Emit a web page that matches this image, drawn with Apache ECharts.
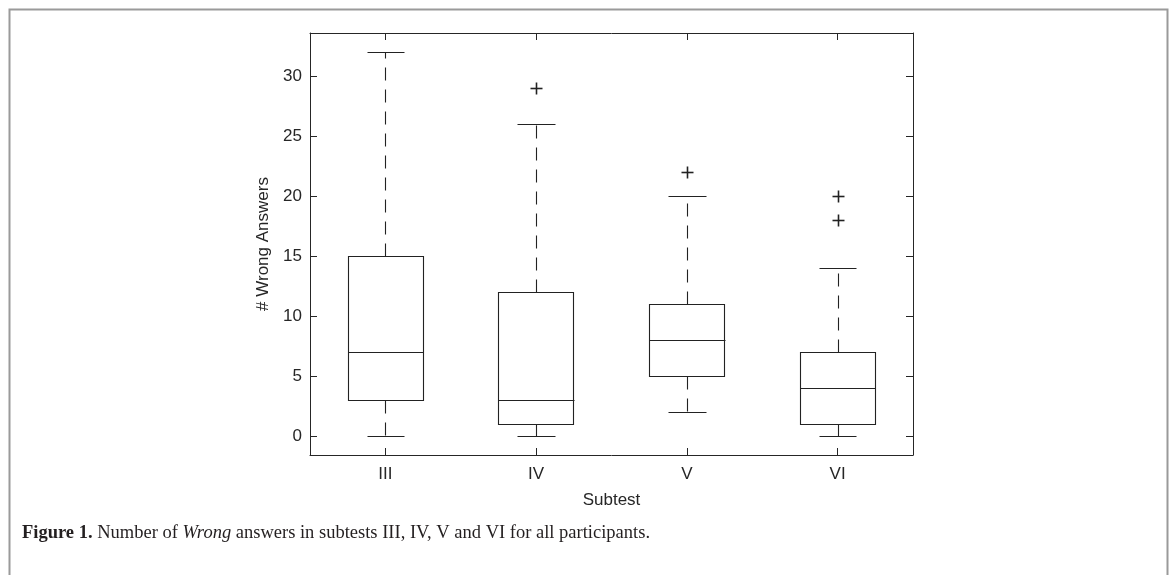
<!DOCTYPE html>
<html><head><meta charset="utf-8">
<script src="https://cdn.jsdelivr.net/npm/echarts@6/dist/echarts.min.js"></script>
<style>html,body{margin:0;padding:0;background:#fff}#c{width:1171px;height:575px}</style>
</head><body><div id="c"></div>
<script>
const categories = ['III', 'IV', 'V', 'VI'];
const whiskerLow = [0, 0, 2, 0];
const q1 = [3, 1, 5, 1];
const median = [7, 3, 8, 4];
const q3 = [15, 12, 11, 7];
const whiskerHigh = [32, 26, 20, 14];
const outlierCat = [1, 2, 3, 3];
const outlierVal = [29, 22, 18, 20];
const yTicks = [0, 5, 10, 15, 20, 25, 30];

const boxData = categories.map((c, i) => [i, whiskerLow[i], q1[i], median[i], q3[i], whiskerHigh[i]]);
const outData = outlierCat.map((c, i) => [c, outlierVal[i]]);
const INK = '#262626';
const snap = v => Math.round(v) + 0.5;

const chart = echarts.init(document.getElementById('c'), null, {renderer: 'canvas'});
const axisCommonY = {
  type: 'value', min: -1.6, max: 33.6,
  axisLine: {show: true, onZero: false, lineStyle: {color: INK, width: 1}},
  axisTick: {show: true, inside: true, length: 7, customValues: yTicks, lineStyle: {color: INK}},
  splitLine: {show: false}
};
const axisCommonX = {
  type: 'category', data: categories, boundaryGap: true,
  axisLine: {show: true, onZero: false, lineStyle: {color: INK, width: 1}},
  axisTick: {show: true, inside: true, alignWithLabel: true, length: 7, lineStyle: {color: INK}},
  splitLine: {show: false}
};
chart.setOption({
  animation: false,
  backgroundColor: '#fff',
  grid: {left: 310, top: 33, right: 258, bottom: 120, containLabel: false},
  xAxis: [
    Object.assign({}, axisCommonX, {position: 'bottom',
      axisLabel: {fontSize: 17, color: INK, margin: 11, fontFamily: 'Liberation Sans'},
      name: 'Subtest', nameLocation: 'middle', nameGap: 37,
      nameTextStyle: {fontSize: 17, color: INK, fontFamily: 'Liberation Sans'}}),
    Object.assign({}, axisCommonX, {position: 'top', axisLabel: {show: false}})
  ],
  yAxis: [
    Object.assign({}, axisCommonY, {position: 'left',
      axisLabel: {fontSize: 17, color: INK, margin: 8, customValues: yTicks, fontFamily: 'Liberation Sans'},
      name: '# Wrong Answers', nameLocation: 'middle', nameGap: 33,
      nameTextStyle: {fontSize: 17, color: INK, fontFamily: 'Liberation Sans'}}),
    Object.assign({}, axisCommonY, {position: 'right', axisLabel: {show: false}})
  ],
  series: [
    {
      type: 'custom', xAxisIndex: 0, yAxisIndex: 0,
      data: boxData,
      encode: {x: 0, y: [1, 2, 3, 4, 5]},
      renderItem: function (params, api) {
        const i = api.value(0);
        const band = api.size([1, 0])[0];
        const cx = api.coord([i, 0])[0];
        const yLow = api.coord([i, api.value(1)])[1];
        const yQ1 = api.coord([i, api.value(2)])[1];
        const yMed = api.coord([i, api.value(3)])[1];
        const yQ3 = api.coord([i, api.value(4)])[1];
        const yHigh = api.coord([i, api.value(5)])[1];
        const bw = band * 0.5, cw = band * 0.25;
        const xs = snap(cx);
        const solid = {stroke: '#222', lineWidth: 1.1, fill: null};
        const dashed = {stroke: '#222', lineWidth: 1.1, fill: null, lineDash: [13, 9]};
        return {
          type: 'group',
          children: [
            {type: 'line', shape: {x1: xs, y1: snap(yQ3), x2: xs, y2: snap(yHigh)}, style: dashed},
            {type: 'line', shape: {x1: xs, y1: snap(yQ1), x2: xs, y2: snap(yLow)}, style: dashed},
            {type: 'line', shape: {x1: snap(cx - cw / 2), y1: snap(yHigh), x2: snap(cx + cw / 2), y2: snap(yHigh)}, style: solid},
            {type: 'line', shape: {x1: snap(cx - cw / 2), y1: snap(yLow), x2: snap(cx + cw / 2), y2: snap(yLow)}, style: solid},
            {type: 'rect', shape: {x: snap(cx - bw / 2), y: snap(yQ3), width: Math.round(bw), height: Math.round(yQ1) - Math.round(yQ3)}, style: solid},
            {type: 'line', shape: {x1: snap(cx - bw / 2), y1: snap(yMed), x2: snap(cx + bw / 2), y2: snap(yMed)}, style: solid}
          ]
        };
      }
    },
    {
      type: 'custom', xAxisIndex: 0, yAxisIndex: 0,
      data: outData,
      encode: {x: 0, y: 1},
      renderItem: function (params, api) {
        const p = api.coord([api.value(0), api.value(1)]);
        const h = 6;
        const x = snap(p[0]), y = snap(p[1]);
        const st = {stroke: '#222', lineWidth: 1.6, fill: null};
        return {
          type: 'group',
          children: [
            {type: 'line', shape: {x1: x - h, y1: y, x2: x + h, y2: y}, style: st},
            {type: 'line', shape: {x1: x, y1: y - h, x2: x, y2: y + h}, style: st}
          ]
        };
      }
    }
  ],
  graphic: [
    {type: 'rect', left: 7, top: 7, shape: {x: 0, y: 0, width: 1158, height: 620},
      style: {fill: null, stroke: '#9a9a9a', lineWidth: 2}, silent: true},
    {type: 'text', left: 22, top: 524,
      style: {
        text: '{b|Figure 1.} Number of {i|Wrong} answers in subtests III, IV, V and VI for all participants.',
        fontFamily: 'Liberation Serif', fontSize: 18.5, fill: '#231f20',
        rich: {
          b: {fontFamily: 'Liberation Serif', fontSize: 18.5, fontWeight: 'bold', fill: '#231f20'},
          i: {fontFamily: 'Liberation Serif', fontSize: 18.5, fontStyle: 'italic', fill: '#231f20'}
        }
      }}
  ]
});
</script>
</body></html>
